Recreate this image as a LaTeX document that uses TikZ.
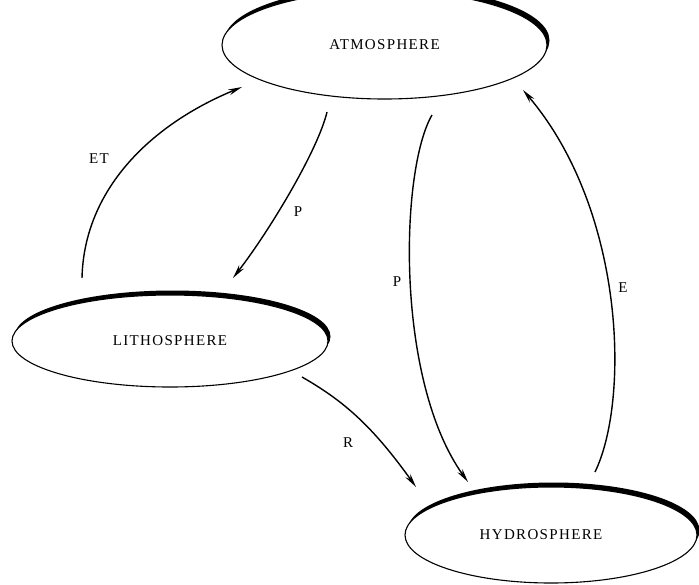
\documentclass[tikz,border=0pt]{standalone}
\usepackage{fontspec}
\setmainfont{Liberation Serif}
\newfontfamily\spacedserif{Liberation Serif}[LetterSpace=9]
\usetikzlibrary{arrows.meta,calc,shapes.geometric}
\tikzset{
  sphere/.style={ellipse, draw, fill=white, line width=1.1pt, inner sep=0pt,
    font=\spacedserif\fontsize{15}{17}\selectfont,
    preaction={fill=black, transform canvas={shift={(2.5pt,4.5pt)}}}},
  flow/.style={line width=1.4pt, -{Stealth[length=14pt,width=6pt]}},
  lbl/.style={font=\spacedserif\fontsize{15}{17}\selectfont, inner sep=0pt}
}
\begin{document}
\begin{tikzpicture}[x=1pt,y=-1pt]
\useasboundingbox (0,0) rectangle (699,584);
\node[sphere, minimum width=325pt, minimum height=108pt] (atm) at (384.5,45) {\raisebox{-5pt}{ATMOSPHERE}};
\node[sphere, minimum width=316pt, minimum height=92pt] (lith) at (170,341) {LITHOSPHERE};
\node[sphere, minimum width=292pt, minimum height=96pt] (hyd) at (551,535) {\hspace*{-20pt}\raisebox{-5pt}{HYDROSPHERE}};
% ET
\draw[flow] ($(lith)+(-88,-63)$) .. controls (84,190) and (150,125) .. ($(atm)+(-142.5,42)$);
\node[lbl] (et) at (99,159) {ET};
% P to lithosphere
\draw[flow] ($(atm)+(-57.5,67)$) .. controls (318,150) and (270,230) .. ($(lith)+(63,-63)$);
\node[lbl] (p1) at (298,212) {P};
% P to hydrosphere
\draw[flow] ($(atm)+(47.5,70)$) .. controls (400,170) and (395,380) .. ($(hyd)+(-83,-53)$);
\node[lbl] (p2) at (397,282) {P};
% E
\draw[flow] ($(hyd)+(44,-63)$) .. controls (630,400) and (625,210) .. ($(atm)+(138.5,45)$);
\node[lbl] (e) at (623,288) {E};
% R
\draw[flow] ($(lith)+(132,36)$) .. controls (342,400) and (371,424) .. ($(hyd)+(-135,-48)$);
\node[lbl] (r) at (348,443) {R};
\end{tikzpicture}
\end{document}
